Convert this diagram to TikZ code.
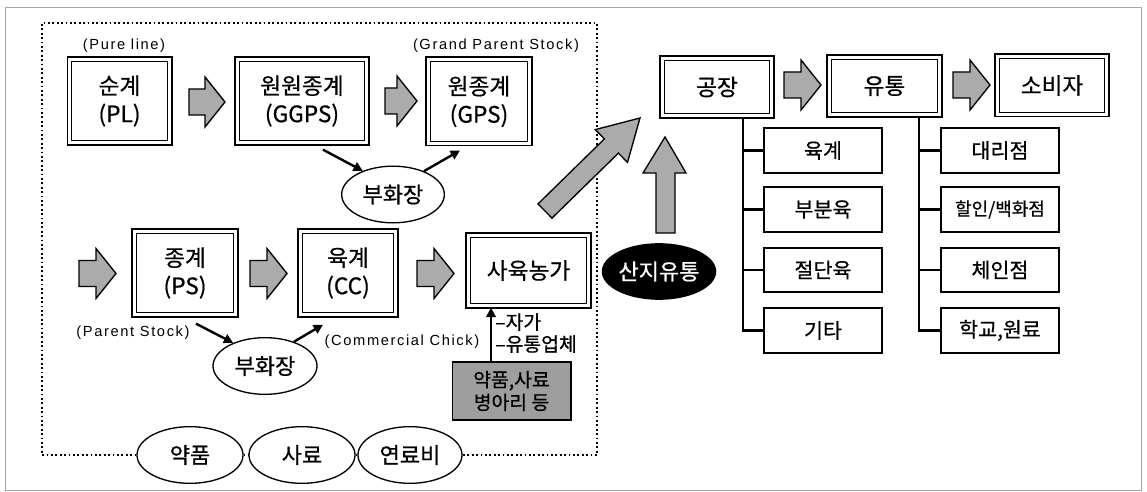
\documentclass[tikz,border=0pt]{standalone}
\usepackage{fontspec}
\setmainfont{Noto Sans CJK KR}[FakeBold=0.7]
\newfontfamily\lat[LetterSpace=11]{Liberation Sans}
\usetikzlibrary{arrows.meta,shapes.geometric,calc}
\newcommand\fatright[3]{%
  \draw[fat] (#1,#3-13) -- (#2-20,#3-13) -- (#2-20,#3-25) -- (#2,#3) -- (#2-20,#3+25) -- (#2-20,#3+13) -- (#1,#3+13) -- cycle;}
\begin{document}
\begin{tikzpicture}[x=0.75pt,y=-0.75pt,
  dbox/.style={draw, line width=1pt, inner sep=0pt, align=center, font=\fontsize{17}{21}\selectfont},
  inbox/.style={line width=0.8pt},
  sbox/.style={draw, line width=1.3pt, inner sep=0pt, minimum width=88pt, minimum height=33.5pt, font=\fontsize{15.5}{18}\selectfont},
  ell/.style={ellipse, draw, line width=1pt, inner sep=0pt, minimum width=78pt, minimum height=42.5pt, font=\fontsize{16.5}{18}\selectfont},
  fat/.style={draw, line width=1pt, fill=black!33},
  conn/.style={line width=1.8pt, -{Triangle[length=7pt,width=7pt]}},
  tree/.style={line width=1.6pt},
  frame/.style={line width=1.3pt, dotted},
  lbl/.style={font=\lat\fontsize{11}{13}\selectfont, inner sep=0pt}]
\useasboundingbox (0,0) rectangle (1147,492);
\draw[gray!70, line width=0.6pt] (5,7) rectangle (1141,490);

% top row
\node[dbox, minimum width=78.5pt, minimum height=66pt] (pl) at (119.5,101) {순계\\(PL)};
\node[dbox, minimum width=100.5pt, minimum height=66pt] (ggps) at (302,101) {원원종계\\(GGPS)};
\node[dbox, minimum width=79.5pt, minimum height=66.5pt] (gps) at (479,101.5) {원종계\\(GPS)};
\node[lbl] (lpl) at (124,46) {(Pure line)};
\node[lbl] (lgps) at (496,46) {(Grand Parent Stock)};
\node[ell, minimum width=77pt] (h1) at (393,194.5) {부화장};

% second row
\node[dbox, minimum width=79.5pt, minimum height=66pt] (ps) at (185,273) {종계\\(PS)};
\node[dbox, minimum width=75pt, minimum height=66pt] (cc) at (348,273) {육계\\(CC)};
\node[dbox, minimum width=93.75pt, minimum height=56.25pt] (farm) at (528.5,270.5) {사육농가};
\node[lbl] (lps) at (133,333) {(Parent Stock)};
\node[lbl] (lcc) at (402,342) {(Commercial Chick)};
\node[ell] (h2) at (265,366) {부화장};

\node[draw, line width=1pt, fill=black!38, minimum width=89pt, minimum height=43.5pt, inner sep=0pt, align=center, font=\fontsize{14.5}{17}\selectfont] (sup) at (511.5,391) {약품,사료\\병아리 등};
\node[anchor=north west, align=left, inner sep=0pt, font=\fontsize{14.5}{16.5}\selectfont] (src) at (495,313) {–자가\\–유통업체};

% bottom ellipses
\node[ell, minimum width=79.5pt] (e1) at (190,455) {약품};
\node[ell, minimum width=79.5pt] (e2) at (302,455) {사료};
\node[ell, minimum width=78pt] (e3) at (410,455) {연료비};
\draw[frame] (e1.west) -- (42,455) -- (42,23) -- (597,23) -- (597,455) -- (e3.east);
\draw[frame] (e1.east) -- (e2.west);
\draw[frame] (e2.east) -- (e3.west);

% right part
\node[dbox, minimum width=85.5pt, minimum height=46.5pt] (fac) at (717,87) {공장};
\node[dbox, minimum width=86.25pt, minimum height=46.5pt] (dist) at (884.5,86) {유통};
\node[dbox, minimum width=85.5pt, minimum height=47pt] (cons) at (1052,85.5) {소비자};
\foreach \n in {pl,ggps,gps,ps,cc,farm,fac,dist,cons}
  \draw[inbox] ($(\n.south west)+(5,-5)$) rectangle ($(\n.north east)+(-5,5)$);

\node[ellipse, fill=black, text=white, inner sep=0pt, minimum width=76.5pt, minimum height=42.5pt, font=\fontsize{16.5}{18}\selectfont] (sanji) at (659,271.5) {산지유통};

\node[sbox] (a1) at (823,150.5) {육계};
\node[sbox] (a2) at (823,209.5) {부분육};
\node[sbox] (a3) at (823,270) {절단육};
\node[sbox] (a4) at (823,330.5) {기타};
\node[sbox] (b1) at (1000,150.5) {대리점};
\node[sbox, font=\fontsize{13.5}{16}\selectfont] (b2) at (1000,209.5) {할인/백화점};
\node[sbox] (b3) at (1000,270) {체인점};
\node[sbox] (b4) at (1000,330.5) {학교,원료};

\coordinate (t1) at (743,118);
\coordinate (t2) at (919,117);
\draw[tree] (t1) |- (a4.west);
\draw[tree] (t1 |- a1.west) -- (a1.west);
\draw[tree] (t1 |- a2.west) -- (a2.west);
\draw[tree] (t1 |- a3.west) -- (a3.west);
\draw[tree] (t2) |- (b4.west);
\draw[tree] (t2 |- b1.west) -- (b1.west);
\draw[tree] (t2 |- b2.west) -- (b2.west);
\draw[tree] (t2 |- b3.west) -- (b3.west);

% fat arrows
\fatright{189}{225}{102}
\fatright{385}{417}{101}
\fatright{79}{116}{273.5}
\fatright{250}{287}{273.5}
\fatright{417}{454}{273.5}
\fatright{784}{821}{85}
\fatright{953}{990}{85}
\draw[fat] (656,233) -- (656,173) -- (643,173) -- (665,137) -- (686,173) -- (675,173) -- (675,233) -- cycle;
\draw[fat] (538.0,203.9) -- (604.4,138.9) -- (595.3,129.6) -- (640,118) -- (627.5,162.4) -- (618.4,153.1) -- (552.0,218.1) -- cycle;

% thin arrows
\draw[conn] ($(ggps.south)+(21,4)$) -- (h1.142);
\draw[conn] (h1.37) -- ($(gps.south)+(-19,4)$);
\draw[conn] ($(ps.south)+(11,6)$) -- (h2.144);
\draw[conn] (h2.40) -- ($(cc.south)+(-25,7)$);
\draw[conn] ($(sup.north)+(-20.5,0)$) -- ($(farm.south)+(-37.5,-1)$);
\end{tikzpicture}
\end{document}
